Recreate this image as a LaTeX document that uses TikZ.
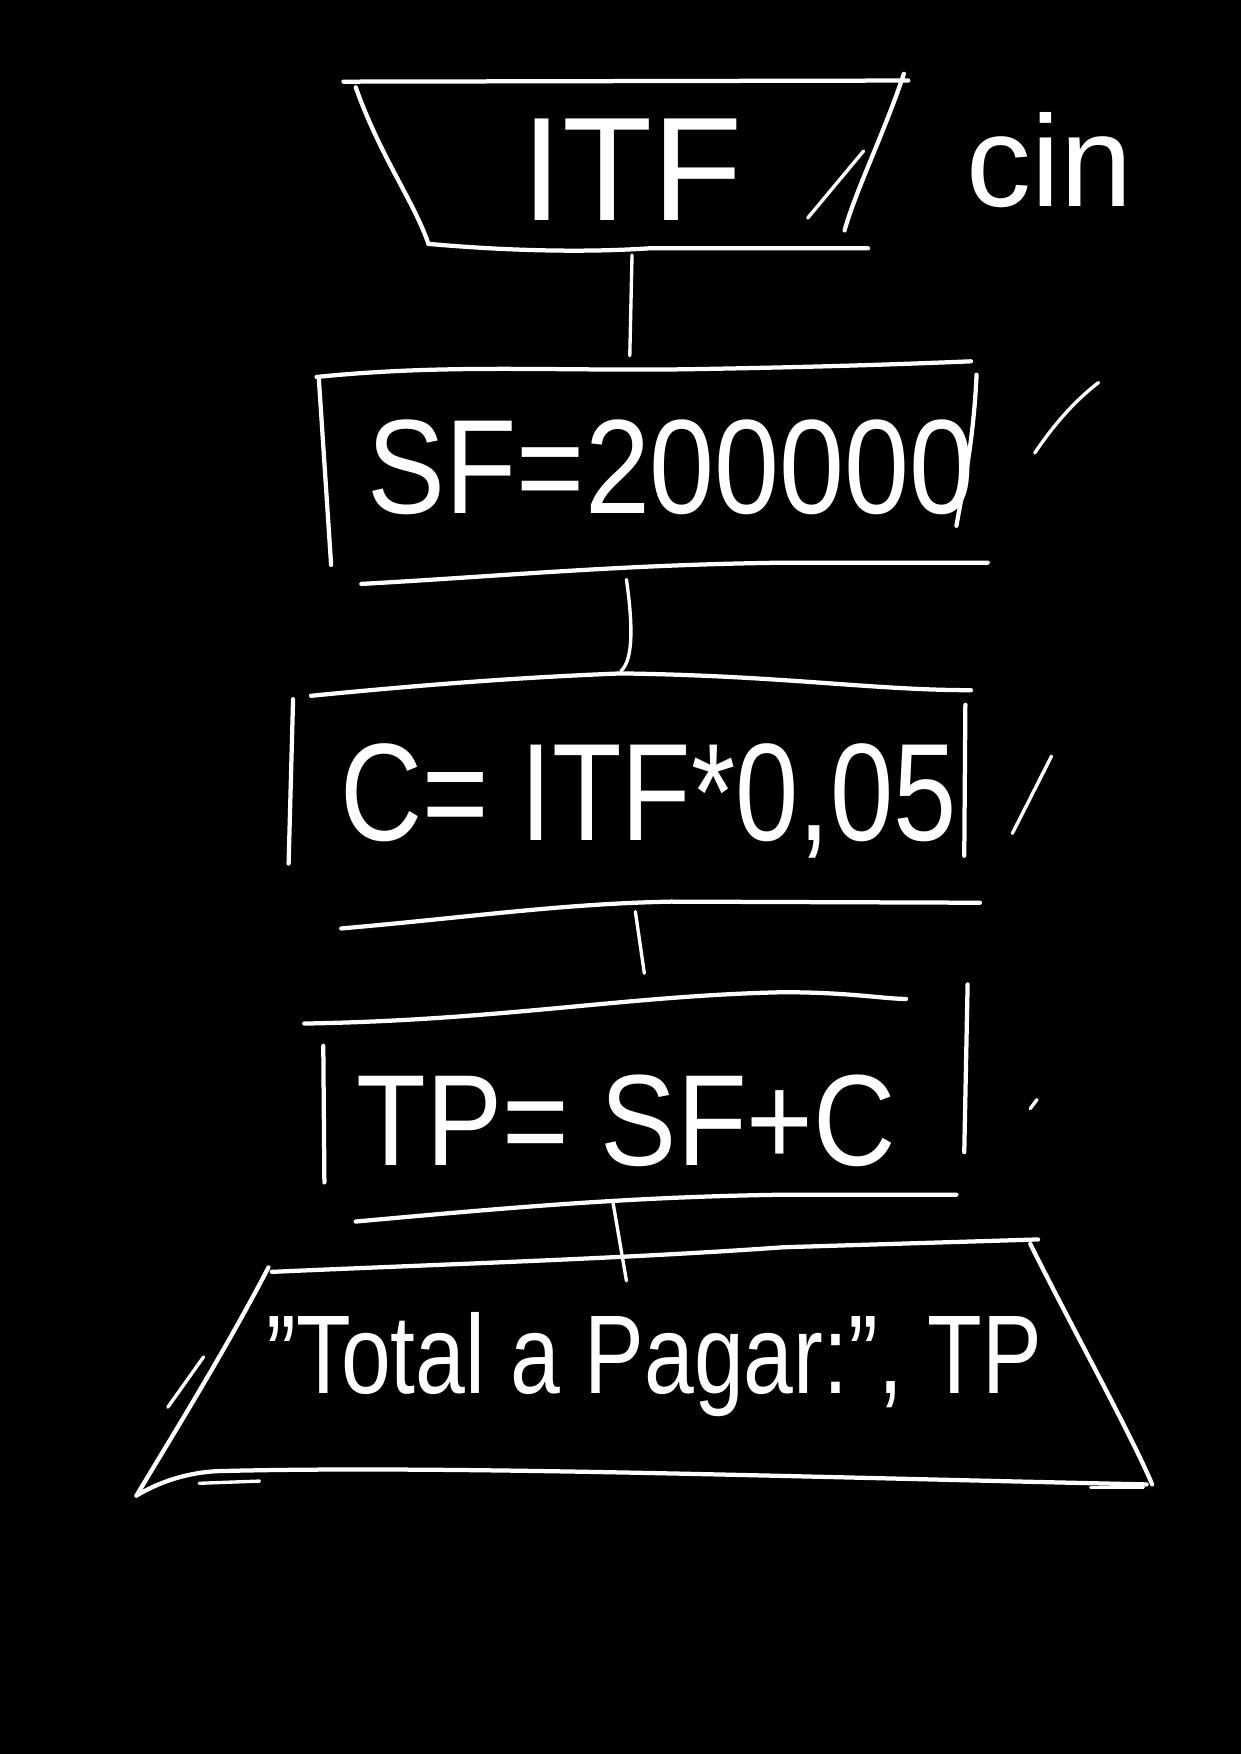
\documentclass[tikz,border=0pt]{standalone}
\usepackage{fontspec}
\setmainfont{Liberation Sans}
\begin{document}
\begin{tikzpicture}[x=0.5pt,y=-0.5pt,
  ink/.style={draw=white,line width=1.9pt,line cap=round,line join=round},
  thin/.style={draw=white,line width=1.5pt,line cap=round},
  hand/.style={text=white,inner sep=0pt,anchor=center}]
\fill[black] (0,0) rectangle (1109,1568);
\useasboundingbox (0,0) rectangle (1109,1568);
% ---- box 1: input trapezoid
\draw[ink] (307,73) -- (812,72);
\draw[ink] (318,78) .. controls (340,140) and (370,180) .. (383,218);
\draw[ink] (383,218) .. controls (450,224) and (520,226) .. (580,222) -- (776,222);
\draw[ink] (808,66) .. controls (790,120) and (765,170) .. (755,206);
\node[hand,font=\fontsize{66}{70}\selectfont] (t1) at (565,152) {ITF};
\draw[thin] (722,195) -- (772,135);
\node[hand,font=\fontsize{58}{62}\selectfont] (cin) at (938,143) {cin};
% ---- box 2
\draw[ink] (283,337) .. controls (400,325) and (500,332) .. (620,330) .. controls (740,328) and (820,325) .. (868,323);
\draw[ink] (285,338) -- (296,505);
\draw[ink] (873,335) .. controls (870,400) and (860,440) .. (855,470);
\draw[ink] (323,522) .. controls (450,515) and (550,505) .. (700,503) -- (883,503);
\node[hand] (t2) at (600,418) {\scalebox{0.87}[1]{\fontsize{60}{64}\selectfont SF=200000}};
\draw[thin] (925,405) .. controls (945,375) and (965,355) .. (982,342);
% ---- box 3
\draw[ink] (278,622) .. controls (400,610) and (480,605) .. (555,602) .. controls (700,604) and (780,617) .. (868,617);
\draw[ink] (262,625) -- (258,772);
\draw[ink] (863,630) -- (862,765);
\draw[ink] (305,830) .. controls (420,820) and (500,808) .. (600,806) -- (876,807);
\node[hand] (t3) at (580,716) {\scalebox{0.82}[1]{\fontsize{62}{66}\selectfont C= ITF*0,05}};
\draw[thin] (905,745) -- (940,676);
% ---- box 4
\draw[ink] (272,915) .. controls (450,912) and (560,890) .. (700,887) .. controls (760,887) and (790,893) .. (810,893);
\draw[ink] (289,935) -- (290,1057);
\draw[ink] (865,880) -- (862,1030);
\draw[ink] (318,1092) .. controls (450,1080) and (560,1070) .. (700,1068) -- (855,1068);
\node[hand] (t4) at (560,1002) {\scalebox{0.88}[1]{\fontsize{58}{62}\selectfont TP= SF+C}};
\draw[thin] (921,991) -- (927,983);
% ---- box 5: output trapezoid
\draw[ink] (243,1137) .. controls (400,1130) and (560,1125) .. (700,1115) -- (928,1108);
\draw[ink] (240,1133) .. controls (200,1210) and (150,1290) .. (122,1337);
\draw[thin] (150,1258) -- (182,1213);
\draw[ink] (122,1337) .. controls (150,1320) and (180,1315) .. (200,1315) .. controls (400,1310) and (700,1320) .. (1025,1327);
\draw[thin] (178,1326) -- (232,1324);
\draw[thin] (975,1330) -- (1022,1330);
\draw[ink] (921,1112) .. controls (960,1190) and (1010,1280) .. (1030,1327);
\node[hand] (t5) at (585,1220) {\scalebox{0.8}[1]{\fontsize{50}{54}\selectfont "Total a Pagar:", TP}};
% ---- connectors
\coordinate (b1s) at (565,228);
\coordinate (b2n) at (563,318);
\coordinate (b2s) at (560,518);
\coordinate (b3n) at (555,600);
\coordinate (b3s) at (568,815);
\coordinate (b4n) at (576,870);
\coordinate (b4s) at (548,1075);
\coordinate (b5n) at (560,1145);
\draw[thin] (b1s) -- (b2n);
\draw[thin] (b2s) .. controls (566,560) and (566,590) .. (b3n);
\draw[thin] (b3s) -- (b4n);
\draw[thin] (b4s) -- (b5n);
\end{tikzpicture}
\end{document}
